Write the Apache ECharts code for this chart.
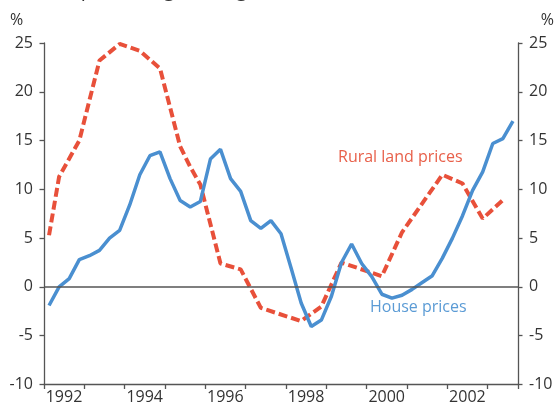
<!DOCTYPE html>
<html>
<head>
<meta charset="utf-8">
<script src="https://cdn.jsdelivr.net/npm/echarts@6/dist/echarts.min.js"></script>
<style>
  html, body { margin: 0; padding: 0; background: #fff; }
  #chart { width: 555px; height: 408px; }
</style>
</head>
<body>
<div id="chart"></div>
<script>
// quarterly, from 1992 Q1 to 2003 Q3
const housePrices = [
  -1.9, 0.0, 0.85, 2.8, 3.2, 3.75, 5.0, 5.8, 8.4, 11.5, 13.45, 13.85,
  11.1, 8.85, 8.2, 8.75, 13.1, 14.1, 11.1, 9.8, 6.8, 6.0, 6.8, 5.45,
  1.95, -1.65, -4.05, -3.4, -0.95, 2.5, 4.4, 2.4, 1.05, -0.75, -1.15, -0.85,
  -0.25, 0.45, 1.15, 2.95, 5.0, 7.3, 9.9, 11.8, 14.7, 15.2, 17.0,
];
// quarter index (0 = 1992 Q1) of each rural land observation
const landQuarters = [0, 1, 3, 5, 7, 9, 11, 13, 14, 15, 17, 19, 21, 25, 27, 29, 33, 35, 39, 41, 43, 45];
const landPrices = [5.3, 11.3, 15.0, 23.2, 24.9, 24.2, 22.4, 14.4, 12.3, 10.5, 2.4, 1.8, -2.15, -3.5, -2.0, 2.5, 1.1, 5.6, 11.5, 10.6, 7.0, 8.9];

const firstYear = 1992;
const lastYear = 2003.75;
const yMin = -10, yMax = 25, yStep = 5;

const quarterTime = (q) => firstYear + (q + 0.5) / 4;
const axisGrey = '#555';
const textGrey = '#333';
const font = 'Open Sans';

const chart = echarts.init(document.getElementById('chart'), null, { renderer: 'canvas' });

const yAxisBase = (position) => ({
  type: 'value',
  position,
  min: yMin,
  max: yMax,
  interval: yStep,
  axisLine: { show: true, lineStyle: { color: axisGrey, width: 1.3 } },
  axisTick: { show: true, inside: false, length: 4.5, lineStyle: { color: axisGrey, width: 1.3 } },
  axisLabel: { color: textGrey, fontSize: 16, fontFamily: font, margin: 11 },
  splitLine: { show: false },
});

chart.setOption({
  animation: false,
  grid: { left: 44, right: 37, top: 43, bottom: 23.5, outerBoundsMode: 'none' },
  xAxis: {
    type: 'value',
    min: firstYear,
    max: lastYear,
    interval: 1,
    axisLine: { show: true, onZero: false, lineStyle: { color: axisGrey, width: 1.3 } },
    axisTick: { show: true, length: 4.5, lineStyle: { color: axisGrey, width: 1.3 } },
    axisLabel: {
      formatter: (v) => (v % 2 === 0 ? String(v) : ''),
      color: textGrey, fontSize: 16, fontFamily: font, margin: 5,
      align: 'center', padding: [0, 0, 0, 40],
    },
    splitLine: { show: false },
  },
  yAxis: [yAxisBase('left'), yAxisBase('right')],
  graphic: [
    { type: 'text', left: 10, top: 12, style: { text: '%', fill: textGrey, font: `16px "${font}"` } },
    { type: 'text', right: 1, top: 12, style: { text: '%', fill: textGrey, font: `16px "${font}"` } },
    { type: 'text', x: 10, y: -10, style: { text: 'Annual percentage change,', fill: textGrey, font: `20px "${font}"`, verticalAlign: 'middle' } },
    { type: 'text', left: 338, top: 149, style: { text: 'Rural land prices', fill: '#e8604a', font: `16px "${font}"` } },
    { type: 'text', left: 370, top: 299, style: { text: 'House prices', fill: '#5b9bd5', font: `16px "${font}"` } },
  ],
  series: [
    {
      name: 'Rural land prices',
      type: 'line',
      z: 2,
      showSymbol: false,
      data: landQuarters.map((q, i) => [quarterTime(q), landPrices[i]]),
      lineStyle: { color: '#e8503a', width: 4, type: [9, 4] },
    },
    {
      name: 'House prices',
      type: 'line',
      z: 3,
      showSymbol: false,
      data: housePrices.map((v, i) => [quarterTime(i), v]),
      lineStyle: { color: '#4a8fd0', width: 3.5 },
      markLine: {
        silent: true,
        symbol: 'none',
        label: { show: false },
        lineStyle: { color: axisGrey, width: 1.5, type: 'solid' },
        data: [{ yAxis: 0 }],
      },
    },
  ],
});
</script>
</body>
</html>
